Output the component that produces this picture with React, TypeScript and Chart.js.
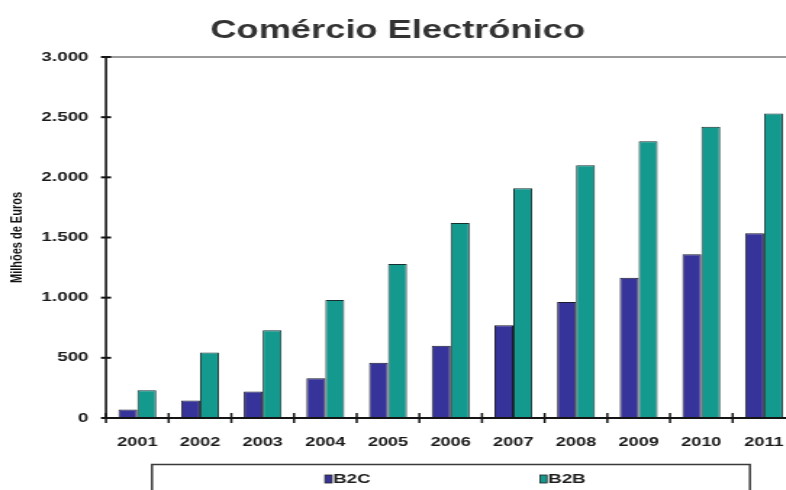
import React, { useEffect, useRef } from "react";
import { Chart, registerables } from "chart.js";

Chart.register(...registerables);

// Annual e-commerce volume, in millions of euros
const years = ["2001", "2002", "2003", "2004", "2005", "2006", "2007", "2008", "2009", "2010", "2011"];
const b2c = [70, 145, 220, 330, 460, 600, 770, 965, 1165, 1360, 1535];
const b2b = [230, 545, 730, 980, 1280, 1620, 1910, 2100, 2300, 2420, 2530];
const yTicks = [0, 500, 1000, 1500, 2000, 2500, 3000];

const FONT = '"Liberation Sans", Arial, sans-serif';
const STRETCH = 1.45; // horizontal stretch of the whole drawing
const LOGICAL_W = 608;
const H = 490;

const fmt = (v: number) => String(v).replace(/\B(?=(\d{3})+(?!\d))/g, ".");

// Axis lines with crossing tick marks and a grey top border
const axesPlugin = {
  id: "excelAxes",
  afterDatasetsDraw(chart: any) {
    const { ctx, chartArea, scales } = chart;
    const { left, right, top, bottom } = chartArea;
    const line = (x1: number, y1: number, x2: number, y2: number) => {
      ctx.beginPath();
      ctx.moveTo(x1, y1);
      ctx.lineTo(x2, y2);
      ctx.stroke();
    };
    ctx.save();
    ctx.strokeStyle = "#9a9a9a";
    ctx.lineWidth = 2;
    line(left, top, right + 10, top);

    ctx.strokeStyle = "#151515";
    ctx.lineWidth = 1.6;
    line(left, top, left, bottom);
    ctx.lineWidth = 2;
    scales.y.ticks.forEach((_t: any, i: number) => {
      const py = scales.y.getPixelForTick(i);
      line(left - 3.5, py, left + 3.5, py);
    });
    ctx.lineWidth = 2;
    line(left, bottom, right, bottom);
    const n = chart.data.labels.length;
    ctx.lineWidth = 1.5;
    for (let i = 0; i <= n; i++) {
      const px = left + (i * (right - left)) / n;
      line(px, bottom - 5, px, bottom + 5);
    }
    ctx.restore();
  },
};

// Framed legend along the bottom edge
const framedLegend = {
  id: "framedLegend",
  afterDraw(chart: any) {
    const { ctx } = chart;
    const frame = { left: 104.8, right: 517.2, top: 464.5 };
    const items = [
      { marker: 224.1, text: 229.7 },
      { marker: 372.4, text: 378.0 },
    ];
    ctx.save();
    ctx.strokeStyle = "#3a3a3a";
    ctx.lineWidth = 1.5;
    ctx.strokeRect(frame.left, frame.top, frame.right - frame.left, 60);
    ctx.font = `bold 13px ${FONT}`;
    ctx.textBaseline = "middle";
    chart.data.datasets.forEach((ds: any, i: number) => {
      const it = items[i];
      ctx.fillStyle = ds.backgroundColor;
      ctx.fillRect(it.marker, 475, 4.8, 8);
      ctx.strokeStyle = "#222";
      ctx.lineWidth = 0.8;
      ctx.strokeRect(it.marker, 475, 4.8, 8);
      ctx.fillStyle = "#1e1e1e";
      ctx.fillText(ds.label, it.text, 479.5);
    });
    ctx.restore();
  },
};

export default function App() {
  const canvasRef = useRef<HTMLCanvasElement | null>(null);

  useEffect(() => {
    if (!canvasRef.current) return;
    const chart = new Chart(canvasRef.current, {
      type: "bar",
      data: {
        labels: years,
        datasets: [
          {
            label: "B2C",
            data: b2c,
            backgroundColor: "#36339a",
            borderColor: "#1c1c2c",
            borderWidth: 1,
            categoryPercentage: 0.604,
            barPercentage: 1,
          },
          {
            label: "B2B",
            data: b2b,
            backgroundColor: "#14998f",
            borderColor: "#153230",
            borderWidth: 1,
            categoryPercentage: 0.604,
            barPercentage: 1,
          },
        ],
      },
      options: {
        responsive: false,
        animation: false,
        devicePixelRatio: 1,
        layout: { padding: { left: 0, right: 59.5, top: 0, bottom: 23 } },
        plugins: {
          legend: { display: false },
          tooltip: { enabled: false },
          title: {
            display: true,
            text: "Comércio Electrónico",
            color: "#333",
            font: { family: FONT, size: 25, weight: "bold" },
            padding: { top: 16, bottom: 11 },
          },
        },
        scales: {
          x: {
            grid: { display: false, drawTicks: false },
            border: { display: false },
            ticks: {
              color: "#1a1a1a",
              font: { family: FONT, size: 12.5, weight: "bold" },
              padding: 17,
              maxRotation: 0,
            },
          },
          y: {
            min: 0,
            max: 3000,
            grid: { display: false, drawTicks: false },
            border: { display: false },
            afterBuildTicks: (scale: any) => {
              scale.ticks = yTicks.map((v) => ({ value: v }));
            },
            afterFit: (scale: any) => {
              scale.width = 73.1;
            },
            ticks: {
              color: "#1a1a1a",
              font: { family: FONT, size: 13, weight: "bold" },
              padding: 12,
              callback: (v: any) => fmt(Number(v)),
            },
            title: {
              display: true,
              text: "Milhões de Euros",
              color: "#111",
              font: { family: FONT, size: 11, weight: "bold" },
              padding: { top: 5, bottom: 0 },
            },
          },
        },
      },
      plugins: [axesPlugin, framedLegend],
    });
    return () => chart.destroy();
  }, []);

  return (
    <div
      style={{
        position: "fixed",
        left: 0,
        top: 0,
        width: 786,
        height: H,
        overflow: "hidden",
        background: "#fff",
      }}
    >
      <div style={{ width: LOGICAL_W, height: H, transform: `scaleX(${STRETCH})`, transformOrigin: "0 0" }}>
        <canvas ref={canvasRef} width={LOGICAL_W} height={H} style={{ display: "block" }} />
      </div>
    </div>
  );
}
